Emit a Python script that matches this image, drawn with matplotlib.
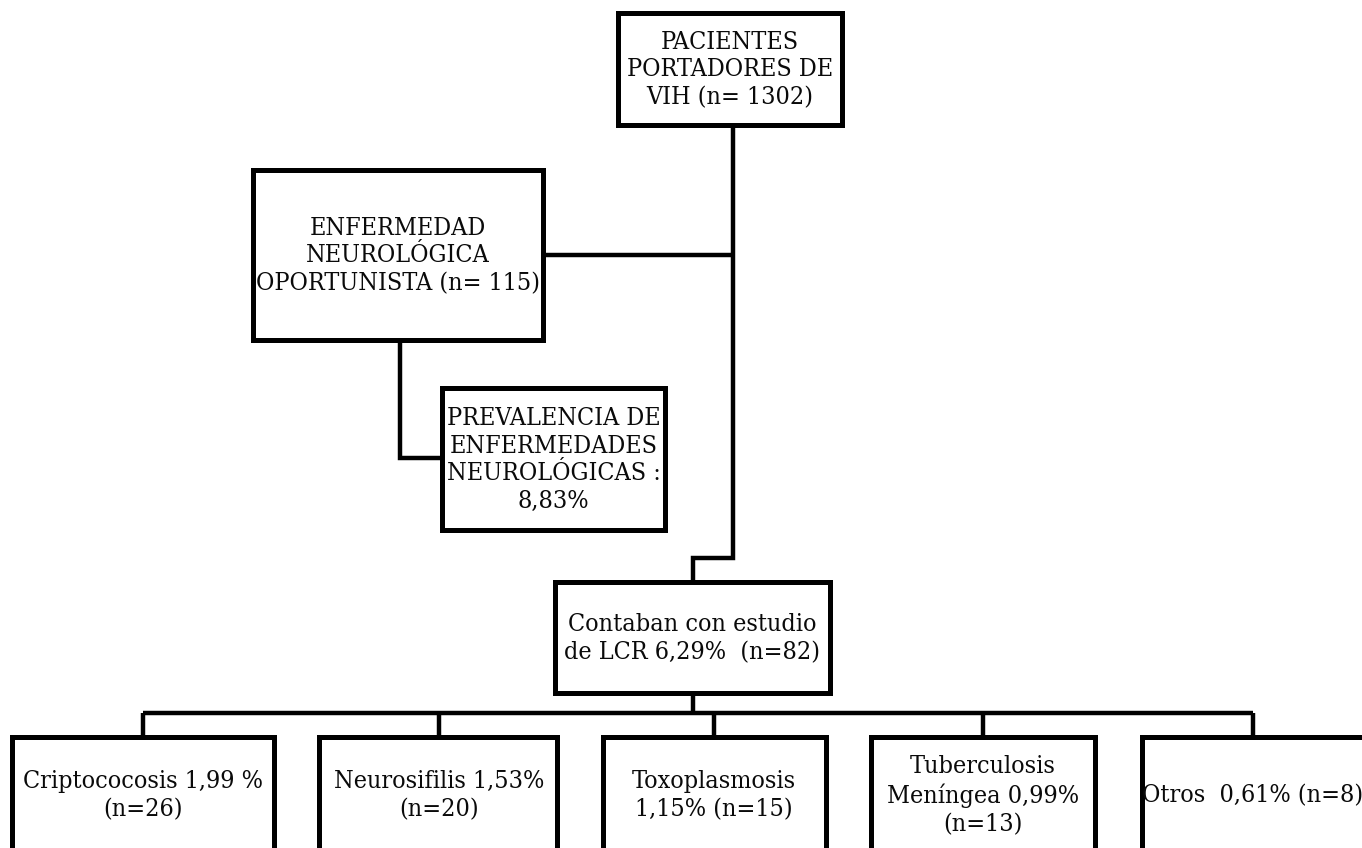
import matplotlib.pyplot as plt
from matplotlib.patches import Rectangle

# figure size in pixels (the axes uses pixel units, y pointing down)
W, H = 1362, 848

# labels of the flowchart
top_label = 'PACIENTES\nPORTADORES DE\nVIH (n= 1302)'
neuro_label = 'ENFERMEDAD\nNEUROLÓGICA\nOPORTUNISTA (n= 115)'
prev_label = 'PREVALENCIA DE\nENFERMEDADES\nNEUROLÓGICAS :\n8,83%'
lcr_label = 'Contaban con estudio\nde LCR 6,29%  (n=82)'
leaf_labels = ['Criptococosis 1,99 %\n(n=26)',
               'Neurosifilis 1,53%\n(n=20)',
               'Toxoplasmosis\n1,15% (n=15)',
               'Tuberculosis\nMeníngea 0,99%\n(n=13)',
               'Otros  0,61% (n=8)']

# box layout: (left, top, right, bottom)
top_box = (618, 13, 842, 125)
neuro_box = (253, 170, 543, 340)
prev_box = (442, 388, 665, 530)
lcr_box = (555, 582, 830, 693)
leaf_boxes = [(12, 737, 274, 852),
              (319, 737, 557, 852),
              (603, 737, 826, 852),
              (871, 737, 1095, 852),
              (1142, 737, 1366, 852)]
leaf_x = [143, 439, 714, 983, 1253]

LW = 3.6
FS = 18


def box(ax, b, label, cx=None):
    l, t, r, btm = b
    ax.add_patch(Rectangle((l, t), r - l, btm - t, facecolor='white',
                           edgecolor='black', lw=LW, joinstyle='miter',
                           zorder=2))
    if cx is None:
        cx = (l + r) / 2
    ax.text(cx, (t + btm) / 2 + 1, label, ha='center', va='center',
            fontsize=FS, linespacing=1.27, zorder=3, color='#0a0a0a',
            family='DejaVu Serif', fontstretch='condensed')


def line(ax, xs, ys):
    ax.plot(xs, ys, color='black', lw=3.2, solid_joinstyle='miter',
            solid_capstyle='butt', zorder=1)


fig = plt.figure(figsize=(W / 100, H / 100), dpi=100)
ax = fig.add_axes([0, 0, 1, 1])
ax.set_xlim(0, W)
ax.set_ylim(H, 0)
ax.axis('off')

trunk_x = 733
# main trunk from top box to elbow above LCR box
line(ax, [trunk_x, trunk_x, 693, 693], [125, 558, 558, 582])
# branch to neuro box
line(ax, [neuro_box[2], trunk_x], [255, 255])
# neuro -> prevalence
line(ax, [400, 400, prev_box[0]], [neuro_box[3], 458, 458])
# LCR -> bus
line(ax, [693, 693], [lcr_box[3], 713])
line(ax, [leaf_x[0], leaf_x[-1]], [713, 713])
for x in leaf_x:
    line(ax, [x, x], [713, 737])

box(ax, top_box, top_label)
box(ax, neuro_box, neuro_label)
box(ax, prev_box, prev_label)
box(ax, lcr_box, lcr_label)
for b, lab, x in zip(leaf_boxes, leaf_labels, leaf_x):
    box(ax, b, lab, cx=x)

fig.savefig('out.png', dpi=100)
